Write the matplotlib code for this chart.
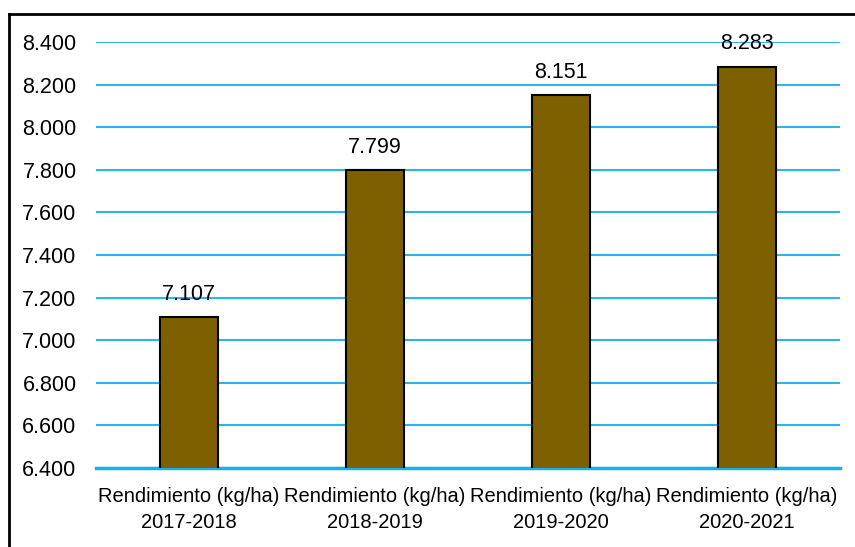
import numpy as np
import matplotlib.pyplot as plt
from matplotlib.ticker import FuncFormatter

plt.rcParams['font.family'] = ['Liberation Sans', 'DejaVu Sans']

categories = ["Rendimiento (kg/ha)\n2017-2018", "Rendimiento (kg/ha)\n2018-2019",
              "Rendimiento (kg/ha)\n2019-2020", "Rendimiento (kg/ha)\n2020-2021"]
values = [7107, 7799, 8151, 8283]
yticks = np.arange(6400, 8401, 200)


def dot_thousands(v, pos=None):
    return f"{v:,.0f}".replace(",", ".")


fig = plt.figure(figsize=(8.55, 5.47), dpi=100)
ax = fig.add_axes([96 / 855, 1 - 468 / 547, 744 / 855, 426 / 547])

x = np.arange(len(values))
ax.bar(x, values, width=0.31, bottom=0, color="#7F6000", edgecolor="black",
       linewidth=1.5, zorder=3)
for xi, v in zip(x, values):
    ax.annotate(dot_thousands(v), (xi, v), xytext=(0, 9), textcoords="offset points",
                ha="center", va="bottom", fontsize=15.5, zorder=4)

ax.set_ylim(6400, 8400)
ax.set_xlim(-0.5, len(values) - 0.5)
ax.set_yticks(yticks)
ax.yaxis.set_major_formatter(FuncFormatter(dot_thousands))
ax.set_xticks(x)
ax.set_xticklabels(categories, fontsize=14.5, linespacing=1.45)
ax.tick_params(axis="y", labelsize=15.5, length=0, pad=14)
ax.tick_params(axis="x", length=0, pad=14)
ax.grid(axis="y", color="#29B6EE", linewidth=1.5, zorder=0)
for s in ["top", "right", "left"]:
    ax.spines[s].set_visible(False)
ax.spines["bottom"].set_color("#1AAFEA")
ax.spines["bottom"].set_linewidth(2.5)

# outer chart border (left and top edges visible)
fig.add_artist(plt.Line2D([9 / 855, 9 / 855], [0, 1 - 14 / 547], color="black", lw=2))
fig.add_artist(plt.Line2D([9 / 855, 1], [1 - 14 / 547, 1 - 14 / 547], color="black", lw=2))

fig.savefig("out.png", dpi=100)
